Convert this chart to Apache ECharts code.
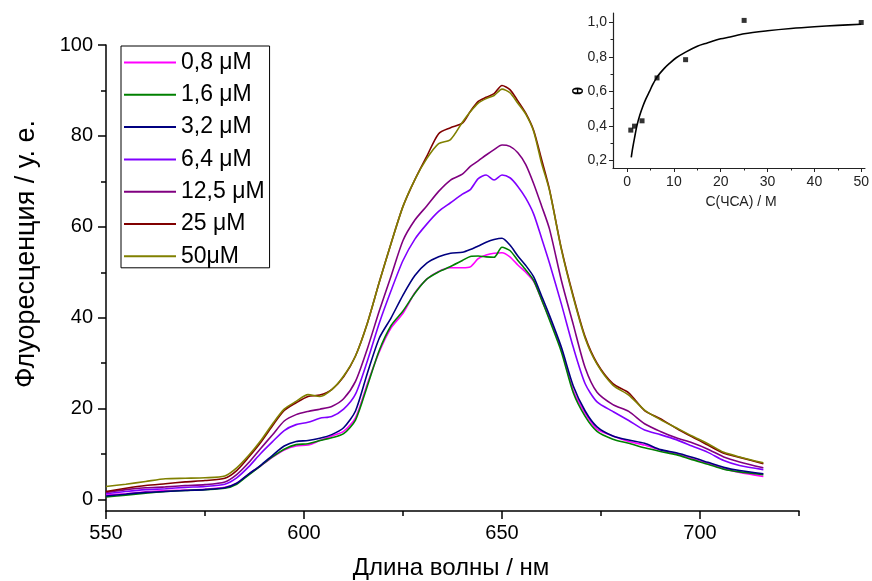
<!DOCTYPE html>
<html><head><meta charset="utf-8">
<script src="https://cdn.jsdelivr.net/npm/echarts@6/dist/echarts.min.js"></script>
<style>html,body{margin:0;padding:0;background:#fff}#c{width:872px;height:581px}</style>
</head><body><div id="c"></div>
<script>
const wavelengths = [550,555,560,565,570,575,580,583,586,589,592,595,598,601,604,607,610,613,616,619,622,625,628,631,634,637,640,642,644,646,648,650,652,654,656,658,660,662,665,668,671,674,678,682,686,690,694,698,702,706,710,716];
const s0_8 = [1.0,1.3,1.7,2.0,2.1,2.3,2.7, 3.6,5.6,7.4,9.3,10.9,11.8, 12.0,13.0,14.0,15.0,18.0,25.5,32.5, 37.8,41.0,45.5,48.5,50.2,51.0,51.0, 51.2,53.0,53.8,54.2,54.3,53.4,51.6,50.0,48.0,44.0, 39.8,33.0,24.0,19.0,15.5,14.0, 12.8,12.0,10.9,10.1,9.0,8.0,6.8,6.0,5.1];
const s1_6 = [0.6,1.0,1.4,1.8,2.0,2.2,2.5, 3.4,5.4,7.4,9.4,11.1,12.1, 12.3,13.0,13.6,14.5,17.5,25.0,32.8, 38.3,41.5,45.4,48.5,50.1,51.3,52.6, 53.5,53.6,53.4,53.3,55.5,54.8,52.6,50.5,48.2,44.0, 39.5,32.5,23.5,18.3,15.0,13.3, 12.4,11.4,10.6,9.9,8.8,7.8,6.7,6.1,5.5];
const s3_2 = [0.8,1.2,1.6,1.8,2.0,2.2,2.6, 3.6,5.6,7.5,9.7,11.8,12.8, 13.0,13.5,14.3,15.8,19.5,27.8,35.5, 40.0,45.0,49.3,52.0,53.4,54.2,54.4, 55.0,55.8,56.6,57.2,57.5,56.0,53.6,51.5,49.0,44.8, 40.5,33.5,25.0,19.5,16.0,14.0, 13.1,12.4,11.0,10.3,9.3,8.2,7.1,6.4,5.7];
const s6_4 = [1.3,1.8,2.2,2.4,2.7,2.9,3.4, 4.8,7.2,10.1,12.7,15.2,16.5, 17.0,17.9,18.3,19.9,23.2,30.5,38.8, 46.0,52.6,57.3,60.6,63.4,65.3,67.2, 68.2,70.6,71.4,70.3,71.4,70.8,68.9,66.3,62.8,57.5, 52.0,43.0,33.5,25.5,21.5,19.4, 17.4,15.3,14.3,13.2,11.8,10.4,8.6,7.5,6.6];
const s12_5 = [1.6,2.2,2.6,2.8,3.1,3.3,3.9, 5.5,8.1,11.2,14.2,17.3,18.7, 19.4,19.9,20.5,22.2,26.0,33.2,41.5, 49.2,57.0,61.5,64.6,67.8,70.3,71.6, 73.3,74.5,75.8,77.0,78.0,77.7,76.3,73.7,69.5,64.6, 59.5,48.2,38.5,29.0,23.6,20.9, 19.4,16.7,15.0,13.6,12.5,11.1,9.4,8.3,7.0];
const s25 = [1.8,2.5,3.1,3.5,3.9,4.2,4.7, 6.4,9.3,12.5,16.2,19.6,21.3, 22.7,23.0,24.2,27.0,31.6,38.8,47.8, 56.4,64.5,70.4,75.5,80.5,81.8,82.8, 85.4,87.6,88.5,89.3,91.1,90.2,87.7,85.0,81.2,74.8, 68.2,55.2,44.8,35.8,30.0,25.5, 23.5,19.6,17.8,15.7,13.8,12.0,10.2,9.3,7.9];
const s50 = [2.9,3.4,4.0,4.6,4.7,4.8,5.2, 7.0,9.7,12.9,16.6,19.9,21.6, 23.1,22.7,24.2,27.2,31.6,38.8,47.8, 56.4,64.5,70.4,75.0,78.3,79.2,83.0, 85.3,87.2,88.2,88.9,90.3,89.5,87.2,84.8,81.0,74.0, 68.0,55.0,44.5,35.5,29.8,25.2, 23.0,19.7,17.6,15.8,14.0,12.3,10.4,9.4,8.1];

const seriesNames = ['0,8 μM','1,6 μM','3,2 μM','6,4 μM','12,5 μM','25 μM','50μM'];
const seriesColors = ['#FF00FF','#008000','#000080','#8000FF','#800080','#800000','#808000'];
const seriesValues = [s0_8,s1_6,s3_2,s6_4,s12_5,s25,s50];

const xTicks = [550,600,650,700];
const xMinorTicks = [575,625,675,725];
const yTicks = [0,20,40,60,80,100];
const yMinorTicks = [10,30,50,70,90];

const insetConc = [0.8,1.6,3.2,6.4,12.5,25,50];
const insetTheta = [0.375,0.398,0.429,0.678,0.784,1.012,1.0];
const fitConc = [0.9,1.2,1.6,2.1,2.7,3.4,4,4.8,5.5,6.5,8,9,10.5,12.5,15,17,20,22,25,30,35,40,45,50];
const fitTheta = [0.217,0.27,0.33,0.40,0.46,0.515,0.555,0.6,0.64,0.687,0.735,0.761,0.795,0.828,0.862,0.88,0.905,0.916,0.935,0.952,0.965,0.975,0.983,0.99];
const insetXTicks = [0,10,20,30,40,50];
const insetXMinor = [5,15,25,35,45];
const insetYTicks = [0.2,0.4,0.6,0.8,1.0];
const insetYMinor = [0.3,0.5,0.7,0.9];

const FONT = "'Liberation Sans', Arial, sans-serif";
const chart = echarts.init(document.getElementById('c'), null, {renderer:'canvas'});

function majorAxis(opts){
  return Object.assign({
    type:'value', splitLine:{show:false},
    axisLine:{show:true, onZero:false, lineStyle:{color:'#000', width:1.5}},
    axisTick:{show:true, length:8, lineStyle:{color:'#000', width:1.5}},
    axisLabel:{color:'#000', fontSize:20, fontFamily:FONT}
  }, opts);
}
function minorAxis(opts){
  return Object.assign({
    type:'value', splitLine:{show:false},
    axisLine:{show:false, onZero:false},
    axisTick:{show:true, length:5, lineStyle:{color:'#000', width:1.5}},
    axisLabel:{show:false}
  }, opts);
}

const fmtComma = v => v.toFixed(1).replace('.', ',');

const option = {
  animation:false,
  backgroundColor:'#fff',
  textStyle:{fontFamily:FONT},
  grid:[
    {left:106, top:45, width:693, height:466},
    {left:613, top:13, width:256, height:155}
  ],
  xAxis:[
    majorAxis({gridIndex:0, min:550, max:725,
      axisTick:{show:true, length:8, customValues:xTicks, lineStyle:{color:'#000', width:1.5}},
      axisLabel:{color:'#000', fontSize:20, fontFamily:FONT, margin:12, customValues:xTicks}}),
    minorAxis({gridIndex:0, min:550, max:725, position:'bottom',
      axisTick:{show:true, length:5, customValues:xMinorTicks, lineStyle:{color:'#000', width:1.5}}}),
    majorAxis({gridIndex:1, min:-3, max:50.8,
      axisLine:{show:true, onZero:false, lineStyle:{color:'#222', width:1.2}},
      axisTick:{show:true, length:4, customValues:insetXTicks, lineStyle:{color:'#222', width:1}},
      axisLabel:{color:'#222', fontSize:14, fontFamily:FONT, margin:7, customValues:insetXTicks}}),
    minorAxis({gridIndex:1, min:-3, max:50.8, position:'bottom',
      axisTick:{show:true, length:2.5, customValues:insetXMinor, lineStyle:{color:'#222', width:1}}})
  ],
  yAxis:[
    majorAxis({gridIndex:0, min:-2.5, max:100,
      axisTick:{show:true, length:8, customValues:yTicks, lineStyle:{color:'#000', width:1.5}},
      axisLabel:{color:'#000', fontSize:20, fontFamily:FONT, margin:13, customValues:yTicks}}),
    minorAxis({gridIndex:0, min:-2.5, max:100, position:'left',
      axisTick:{show:true, length:5, customValues:yMinorTicks, lineStyle:{color:'#000', width:1.5}}}),
    majorAxis({gridIndex:1, min:0.155, max:1.055,
      axisLine:{show:true, onZero:false, lineStyle:{color:'#222', width:1.2}},
      axisTick:{show:true, length:4, customValues:insetYTicks, lineStyle:{color:'#222', width:1}},
      axisLabel:{color:'#222', fontSize:14, fontFamily:FONT, margin:6, customValues:insetYTicks, formatter:fmtComma}}),
    minorAxis({gridIndex:1, min:0.155, max:1.055, position:'left',
      axisTick:{show:true, length:2.5, customValues:insetYMinor, lineStyle:{color:'#222', width:1}}})
  ],
  legend:{
    data:seriesNames, orient:'vertical', left:121, top:46,
    itemWidth:52, itemHeight:14, itemGap:9.3,
    padding:[5,5,0,3],
    borderColor:'#000', borderWidth:1,
    textStyle:{color:'#000', fontSize:23, fontFamily:FONT},
    icon:'path://M0,6 L52,6 L52,8 L0,8 Z'
  },
  series:[
    ...seriesNames.map((name,i)=>({
      name, type:'line', xAxisIndex:0, yAxisIndex:0,
      data: wavelengths.map((w,k)=>[w, seriesValues[i][k]]),
      symbol:'none', smooth:0.25,
      lineStyle:{color:seriesColors[i], width:1.6},
      itemStyle:{color:seriesColors[i]}
    })),
    {type:'line', xAxisIndex:2, yAxisIndex:2, data: fitConc.map((c,k)=>[c, fitTheta[k]]),
      symbol:'none', smooth:0.3, lineStyle:{color:'#000', width:1.6}},
    {type:'scatter', xAxisIndex:2, yAxisIndex:2, data: insetConc.map((c,k)=>[c, insetTheta[k]]),
      symbol:'rect', symbolSize:5, itemStyle:{color:'#000'}}
  ],
  graphic:[
    {type:'text', x:451, y:568, style:{text:'Длина волны / нм', fontSize:24, fontFamily:FONT, fill:'#000', align:'center', verticalAlign:'middle'}},
    {type:'text', x:27, y:254, rotation:Math.PI/2, style:{text:'Флуоресценция / у. е.', fontSize:27, fontFamily:FONT, fill:'#000', align:'center', verticalAlign:'middle'}},
    {type:'text', x:741, y:202, style:{text:'C(ЧСА) / M', fontSize:14, fontFamily:FONT, fill:'#222', align:'center', verticalAlign:'middle'}},
    {type:'text', x:579, y:91, rotation:Math.PI/2, style:{text:'θ', fontSize:15, fontWeight:'bold', fontFamily:FONT, fill:'#000', align:'center', verticalAlign:'middle'}}
  ]
};
chart.setOption(option);
</script>
</body></html>
